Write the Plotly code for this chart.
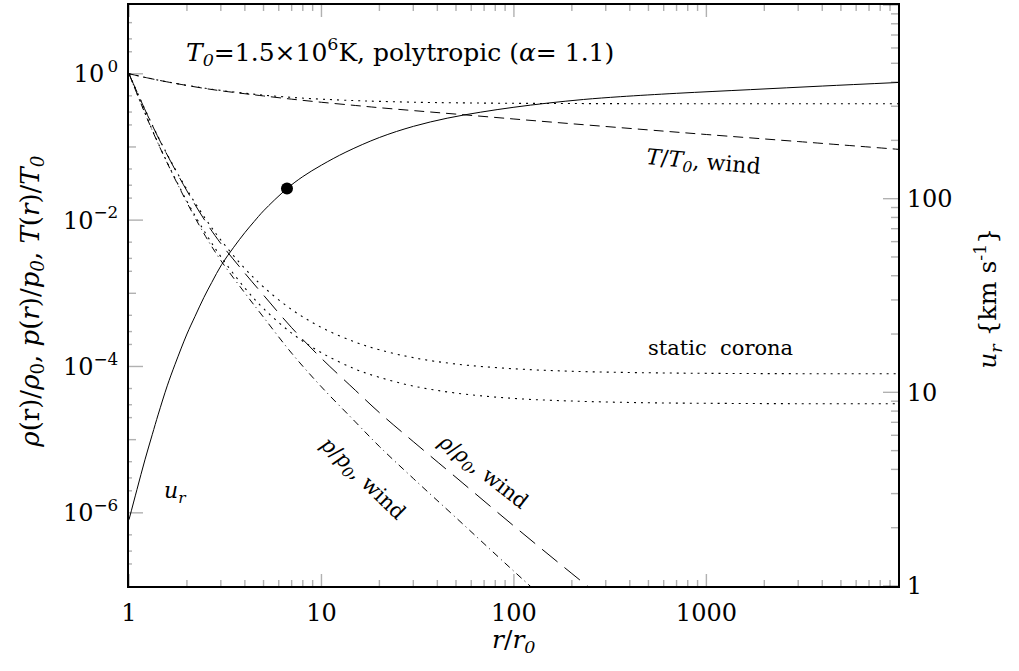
import plotly.graph_objects as go

# ---- radius grid (r / r0) shared by the static and wind profiles ----
r_grid = [1, 1.25, 1.5, 2, 2.5, 3, 4, 5, 7, 10, 15, 20, 30, 50, 100, 200, 500, 1000, 3000, 9900]

# static polytropic corona
T_static = [1, 0.878, 0.796, 0.695, 0.633, 0.593, 0.542, 0.511, 0.476, 0.450, 0.430, 0.420,
            0.409, 0.401, 0.395, 0.392, 0.390, 0.3896, 0.3892, 0.3891]
rho_static = [1, 0.272, 0.1025, 0.0261, 0.0104, 5.35e-3, 2.18e-3, 1.22e-3, 6.0e-4, 3.41e-4,
              2.15e-4, 1.69e-4, 1.32e-4, 1.08e-4, 9.3e-5, 8.6e-5, 8.2e-5, 8.06e-5, 7.97e-5, 7.95e-5]
p_static = [1, 0.2385, 0.0816, 0.0181, 6.6e-3, 3.17e-3, 1.18e-3, 6.2e-4, 2.86e-4, 1.54e-4,
            9.2e-5, 7.1e-5, 5.4e-5, 4.33e-5, 3.66e-5, 3.37e-5, 3.19e-5, 3.14e-5, 3.10e-5, 3.09e-5]

# polytropic wind
T_wind = [1, 0.877, 0.795, 0.692, 0.628, 0.586, 0.534, 0.498, 0.450, 0.408, 0.369, 0.344,
          0.314, 0.281, 0.241, 0.2075, 0.171, 0.148, 0.1186, 0.0929]
rho_wind = [1, 0.269, 0.101, 0.0251, 9.55e-3, 4.79e-3, 1.88e-3, 9.44e-4, 3.39e-4, 1.29e-4,
            4.73e-5, 2.34e-5, 9.4e-6, 3.05e-6, 6.6e-7, 1.48e-7, 2.15e-8, 5.16e-9, 5.5e-10, 4.8e-11]
p_wind = [1, 0.236, 0.0804, 0.0174, 6.0e-3, 2.81e-3, 1.01e-3, 4.71e-4, 1.52e-4, 5.26e-5,
          1.75e-5, 8.07e-6, 2.95e-6, 8.58e-7, 1.59e-7, 3.06e-8, 3.68e-9, 7.66e-10, 6.5e-11, 4.5e-12]

# wind speed (km/s) on the right-hand axis
r_u = [1, 1.1, 1.21, 1.32, 1.42, 1.58, 1.735, 2.0, 2.2, 2.45, 2.69, 3.03, 3.5, 4, 4.47, 5,
       6.62, 8, 10, 13.4, 20, 30.1, 45, 66.9, 100, 148.6, 230, 357, 700, 1695, 4000, 9900]
u_r = [2.2, 3.15, 4.48, 6.04, 7.72, 10.8, 13.96, 20.0, 24.6, 30.9, 36.9, 45.7, 56.1, 66.8, 76.2,
       86.5, 112.7, 130, 149, 174, 206.9, 236.4, 260.3, 279.5, 296.5, 311.2, 325.2, 336.2, 349.9,
       365.6, 381.5, 398]

# sonic point
r_sonic = [6.62]
u_sonic = [112.7]

# axis ticks
x_major = [1, 10, 100, 1000]
x_major_text = ["1", "10", "100", "1000"]
y_major = [1, 1e-2, 1e-4, 1e-6]
y_major_text = ["10<sup>\u20090</sup>", "10<sup>\u22122</sup>", "10<sup>\u22124</sup>", "10<sup>\u22126</sup>"]
y_odd = [1e-1, 1e-3, 1e-5]
u_major = [1, 10, 100, 1000]
u_major_text = ["1", "10", "100", "1000"]

FONT = "DejaVu Serif"
INK = "black"
X_RANGE = [0, 3.9956]
Y_RANGE = [-7, 0.94]
U_RANGE = [0, 3]

x_minor = [m * 10 ** k for k in range(0, 4) for m in range(2, 10) if m * 10 ** k < 9900]
u_minor = [m * 10 ** k for k in range(0, 3) for m in range(2, 10)]
y_tiny = [m * 10.0 ** k for k in range(-7, 1) for m in (2, 3, 5)]

fig = go.Figure()

line = dict(color=INK, width=1)
dotted = dict(color=INK, width=1.1, dash="2px,5px", shape="spline")

fig.add_trace(go.Scatter(x=r_grid, y=T_static, mode="lines", line=dotted))
fig.add_trace(go.Scatter(x=r_grid, y=rho_static, mode="lines", line=dotted))
fig.add_trace(go.Scatter(x=r_grid, y=p_static, mode="lines", line=dotted))

fig.add_trace(go.Scatter(x=r_grid, y=T_wind, mode="lines",
                         line=dict(line, dash="10px,6px", shape="spline")))
fig.add_trace(go.Scatter(x=r_grid, y=rho_wind, mode="lines",
                         line=dict(line, dash="20px,9px", shape="spline")))
fig.add_trace(go.Scatter(x=r_grid, y=p_wind, mode="lines",
                         line=dict(line, dash="7px,4px,1px,4px", shape="spline")))

fig.add_trace(go.Scatter(x=r_u, y=u_r, mode="lines", line=dict(line, shape="spline"), yaxis="y2"))
fig.add_trace(go.Scatter(x=r_sonic, y=u_sonic, mode="markers",
                         marker=dict(color="black", size=12), yaxis="y2"))

label_font = dict(family=FONT, size=24, color="black")
# labels are pushed off the frame by invisible outside ticks; the visible
# inward tick marks are added as pixel-sized shapes below
hidden_ticks = dict(showgrid=False, zeroline=False, ticks="outside",
                    tickcolor="rgba(0,0,0,0)", tickmode="array", tickfont=label_font)

fig.update_layout(
    template="simple_white",
    width=1019, height=671,
    margin=dict(l=129, r=121, t=3, b=85),
    paper_bgcolor="white", plot_bgcolor="white",
    showlegend=False,
    xaxis=dict(hidden_ticks, type="log", range=X_RANGE, tickvals=x_major, ticktext=x_major_text,
               ticklen=4, showline=True, linewidth=2, linecolor=INK, mirror=True),
    yaxis=dict(hidden_ticks, type="log", range=Y_RANGE, tickvals=y_major, ticktext=y_major_text,
               ticklen=4, showline=True, linewidth=2, linecolor=INK),
    yaxis2=dict(hidden_ticks, type="log", range=U_RANGE, overlaying="y", side="right",
                tickvals=u_major, ticktext=u_major_text, ticklen=2,
                showline=True, linewidth=2, linecolor=INK),
)

shapes = []
tick_line = dict(color=INK, width=1.4)


def x_ticks(vals, length):
    for v in vals:
        shapes.append(dict(type="line", xref="x", yref="paper", ysizemode="pixel", yanchor=0,
                           x0=v, x1=v, y0=0, y1=length, line=tick_line))
        shapes.append(dict(type="line", xref="x", yref="paper", ysizemode="pixel", yanchor=1,
                           x0=v, x1=v, y0=0, y1=-length, line=tick_line))


def y_ticks(vals, length, yref, anchor):
    sign = 1 if anchor == 0 else -1
    for v in vals:
        shapes.append(dict(type="line", xref="paper", yref=yref, xsizemode="pixel", xanchor=anchor,
                           x0=0, x1=sign * length, y0=v, y1=v, line=tick_line))


x_ticks(x_major, 12)
x_ticks(x_minor, 6)
y_ticks(y_major, 14, "y", 0)
y_ticks(y_odd, 7, "y", 0)
y_ticks(y_tiny, 3, "y", 0)
y_ticks(u_major, 15, "y2", 1)
y_ticks(u_minor, 7, "y2", 1)
fig.update_layout(shapes=shapes)

ann_font = dict(family=FONT, color="black")
centered = dict(showarrow=False, xanchor="center", yanchor="middle")

annotations = [
    # plot title inside the frame
    dict(centered, text="<i>T</i><sub><i>0</i></sub>=1.5\u00d710<sup>6</sup>K, polytropic (<i>\u03b1</i>= 1.1)",
         xref="paper", yref="paper", x=0.3526, y=0.9198, font=dict(ann_font, size=25)),
    # axis titles
    dict(centered, text="<i>r</i>/<i>r</i><sub><i>0</i></sub>", xref="paper", yref="paper",
         x=0.5, y=-0.0945, font=dict(ann_font, size=25)),
    dict(centered, text="<i>\u03c1</i>(r)/<i>\u03c1</i><sub>0</sub>, <i>p</i>(<i>r</i>)/<i>p</i><sub><i>0</i></sub>, "
                        "<i>T</i>(<i>r</i>)/<i>T</i><sub><i>0</i></sub>",
         xref="paper", yref="paper", x=-0.127, y=0.49, textangle=-90, font=dict(ann_font, size=26)),
    dict(centered, text="<i>u</i><sub><i>r</i></sub> {km s<sup>-1</sup>}",
         xref="paper", yref="paper", x=1.1175, y=0.495, textangle=-90, font=dict(ann_font, size=25)),
    # curve labels
    dict(centered, text="<i>T</i>/<i>T</i><sub><i>0</i></sub>, wind", x=2.985, y=-1.222,
         xref="x", yref="y", textangle=5, font=dict(ann_font, size=22)),
    dict(centered, text="static  corona", x=3.073, y=-3.742, xref="x", yref="y",
         font=dict(ann_font, size=21)),
    dict(centered, text="<i>u</i><sub><i>r</i></sub>", x=0.239, y=-5.718, xref="x", yref="y",
         font=dict(ann_font, size=22)),
    dict(centered, text="<i>p</i>/<i>p</i><sub><i>0</i></sub>, wind", x=1.212, y=-5.54,
         xref="x", yref="y", textangle=44, font=dict(ann_font, size=21)),
    dict(centered, text="<i>\u03c1</i>/<i>\u03c1</i><sub><i>0</i></sub>, wind", x=1.836, y=-5.445,
         xref="x", yref="y", textangle=38, font=dict(ann_font, size=21)),
]
fig.update_layout(annotations=annotations)

fig.write_html("out.html")
